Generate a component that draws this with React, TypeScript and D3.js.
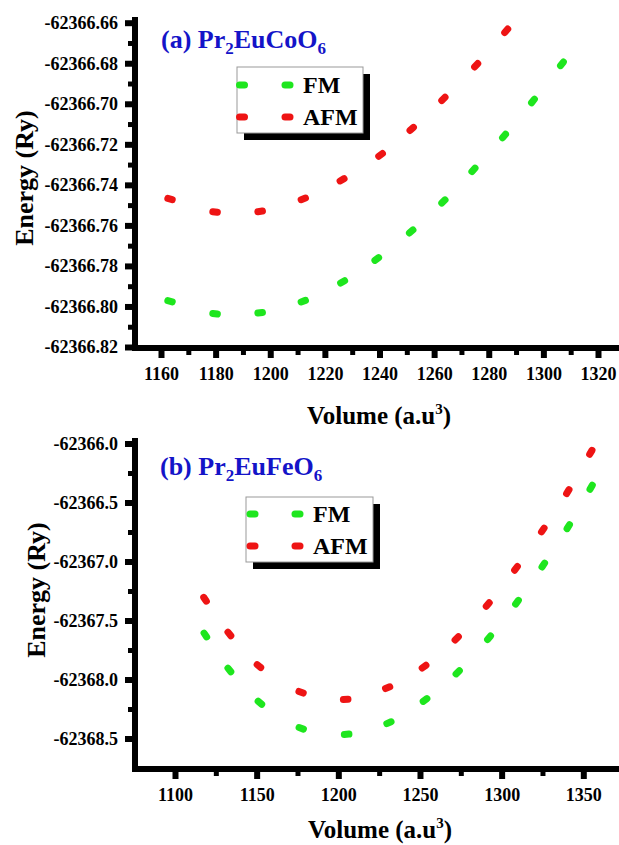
import React, { useEffect, useRef } from 'react';
import * as d3 from 'd3';

// panel (a) Pr2EuCoO6
const coFmVolume = [1163.3, 1179.8, 1196.3, 1212.1, 1226.5, 1239.0, 1251.6, 1263.4, 1274.4, 1285.6, 1296.2, 1306.8];
const coFmEnergy = [-62366.7974, -62366.8036, -62366.8031, -62366.7974, -62366.7879, -62366.7766, -62366.763, -62366.7482, -62366.7326, -62366.7159, -62366.6986, -62366.6803];
const coAfmVolume = [1163.3, 1179.8, 1196.3, 1212.1, 1226.3, 1240.4, 1251.8, 1263.4, 1275.4, 1286.4];
const coAfmEnergy = [-62366.747, -62366.7534, -62366.7531, -62366.7469, -62366.7375, -62366.7252, -62366.7124, -62366.6976, -62366.681, -62366.664];
const coXTicks = [1160, 1180, 1200, 1220, 1240, 1260, 1280, 1300, 1320];
const coYTicks = [-62366.82, -62366.8, -62366.78, -62366.76, -62366.74, -62366.72, -62366.7, -62366.68, -62366.66];

// panel (b) Pr2EuFeO6
const feFmVolume = [1118.6, 1133.3, 1152.0, 1177.3, 1205.1, 1231.0, 1253.1, 1273.1, 1292.3, 1309.4, 1325.5, 1340.8, 1354.8];
const feFmEnergy = [-62367.623, -62367.919, -62368.197, -62368.414, -62368.464, -62368.366, -62368.174, -62367.939, -62367.646, -62367.345, -62367.03, -62366.705, -62366.371];
const feAfmVolume = [1118.4, 1133.3, 1151.4, 1177.2, 1204.5, 1230.2, 1252.5, 1272.5, 1291.5, 1308.8, 1325.2, 1340.5, 1354.6];
const feAfmEnergy = [-62367.32, -62367.614, -62367.886, -62368.108, -62368.168, -62368.069, -62367.891, -62367.651, -62367.365, -62367.058, -62366.733, -62366.408, -62366.075];
const feXTicks = [1100, 1150, 1200, 1250, 1300, 1350];
const feYTicks = [-62368.5, -62368.0, -62367.5, -62367.0, -62366.5, -62366.0];

const seriesNames = ['FM', 'AFM'];
const FONT = '"Liberation Serif", "Times New Roman", serif';
const GREEN = '#1ee61e';
const RED = '#ee1414';
const BLUE = '#1414c8';

const App = () => {
  const ref = useRef<SVGSVGElement>(null);

  useEffect(() => {
    const svg = d3.select(ref.current);
    svg.selectAll('*').remove();

    const drawPanel = (p: any) => {
      const g = svg.append('g');
      const x = d3.scaleLinear().domain(p.xDomain).range(p.xRange);
      const y = d3.scaleLinear().domain(p.yDomain).range(p.yRange);
      const xMinor = p.xTicks.slice(0, -1).map((v: number, i: number) => (v + p.xTicks[i + 1]) / 2)
        .concat([p.xTicks[p.xTicks.length - 1] + (p.xTicks[1] - p.xTicks[0]) / 2]);
      const yMinor = p.yTicks.slice(0, -1).map((v: number, i: number) => (v + p.yTicks[i + 1]) / 2);

      // minor ticks
      g.append('g').attr('transform', `translate(0,${p.axisY})`)
        .call(d3.axisBottom(x).tickValues(xMinor).tickSize(7).tickSizeOuter(0).tickFormat(() => ''))
        .call(s => s.select('.domain').remove())
        .call(s => s.selectAll('line').attr('stroke', '#000').attr('stroke-width', 5));
      g.append('g').attr('transform', `translate(${p.axisX},0)`)
        .call(d3.axisLeft(y).tickValues(yMinor).tickSize(7).tickSizeOuter(0).tickFormat(() => ''))
        .call(s => s.select('.domain').remove())
        .call(s => s.selectAll('line').attr('stroke', '#000').attr('stroke-width', 5));

      // major ticks + labels
      g.append('g').attr('transform', `translate(0,${p.axisY})`)
        .call(d3.axisBottom(x).tickValues(p.xTicks).tickSize(10).tickSizeOuter(0).tickPadding(9).tickFormat(d => String(d)))
        .call(s => s.select('.domain').remove())
        .call(s => s.selectAll('line').attr('stroke', '#000').attr('stroke-width', 6))
        .call(s => s.selectAll('text').attr('fill', '#000').attr('font-family', FONT)
          .attr('font-weight', 'bold').attr('font-size', 18));
      g.append('g').attr('transform', `translate(${p.axisX},0)`)
        .call(d3.axisLeft(y).tickValues(p.yTicks).tickSize(10).tickSizeOuter(0).tickPadding(7)
          .tickFormat(d => (d as number).toFixed(p.yDigits)))
        .call(s => s.select('.domain').remove())
        .call(s => s.selectAll('line').attr('stroke', '#000').attr('stroke-width', 6))
        .call(s => s.selectAll('text').attr('fill', '#000').attr('font-family', FONT)
          .attr('font-weight', 'bold').attr('font-size', 18));

      // axis lines
      g.append('line').attr('x1', p.axisX).attr('x2', p.axisX)
        .attr('y1', p.axisTop).attr('y2', p.axisY + 3)
        .attr('stroke', '#000').attr('stroke-width', 6);
      g.append('line').attr('x1', p.axisX - 3).attr('x2', 640)
        .attr('y1', p.axisY).attr('y2', p.axisY)
        .attr('stroke', '#000').attr('stroke-width', 6);

      // markers: short dashes along local slope
      const drawDashes = (vols: number[], ens: number[], color: string) => {
        const pts = vols.map((v, i) => [x(v), y(ens[i])]);
        pts.forEach((pt, i) => {
          const a = pts[Math.max(0, i - 1)];
          const b = pts[Math.min(pts.length - 1, i + 1)];
          const dx = b[0] - a[0], dy = b[1] - a[1];
          const len = Math.hypot(dx, dy) || 1;
          const h = 2.3;
          g.append('line')
            .attr('x1', pt[0] - (dx / len) * h).attr('y1', pt[1] - (dy / len) * h)
            .attr('x2', pt[0] + (dx / len) * h).attr('y2', pt[1] + (dy / len) * h)
            .attr('stroke', color).attr('stroke-width', 7).attr('stroke-linecap', 'round');
        });
      };
      drawDashes(p.fmVolume, p.fmEnergy, GREEN);
      drawDashes(p.afmVolume, p.afmEnergy, RED);

      // title
      const t = g.append('text').attr('x', p.titleX).attr('y', p.titleY)
        .attr('font-family', FONT).attr('font-weight', 'bold').attr('font-size', 26).attr('fill', BLUE);
      t.append('tspan').text(p.title[0]);
      t.append('tspan').attr('dy', 6).attr('font-size', 17).text(p.title[1]);
      t.append('tspan').attr('dy', -6).attr('font-size', 26).text(p.title[2]);
      t.append('tspan').attr('dy', 6).attr('font-size', 17).text(p.title[3]);

      // legend
      const L = p.legend;
      g.append('rect').attr('x', L.x + 7).attr('y', L.y + 7).attr('width', L.w).attr('height', L.h).attr('fill', '#000');
      g.append('rect').attr('x', L.x).attr('y', L.y).attr('width', L.w).attr('height', L.h)
        .attr('fill', '#fff').attr('stroke', '#999').attr('stroke-width', 1);
      [GREEN, RED].forEach((c, i) => {
        const cy = L.y + L.row0 + i * L.rowGap;
        [L.dash0, L.dash1].forEach(cx => {
          g.append('line').attr('x1', cx - 2.5).attr('x2', cx + 2.5).attr('y1', cy).attr('y2', cy)
            .attr('stroke', c).attr('stroke-width', 7).attr('stroke-linecap', 'round');
        });
        g.append('text').attr('x', L.textX).attr('y', cy + 8)
          .attr('font-family', FONT).attr('font-weight', 'bold').attr('font-size', 24).attr('fill', '#000')
          .text(seriesNames[i]);
      });

      // axis titles
      const xt = g.append('text').attr('x', p.xTitleX).attr('y', p.xTitleY).attr('text-anchor', 'middle')
        .attr('font-family', FONT).attr('font-weight', 'bold').attr('font-size', 25).attr('fill', '#000');
      xt.append('tspan').text('Volume (a.u');
      xt.append('tspan').attr('dy', -10).attr('font-size', 15).text('3');
      xt.append('tspan').attr('dy', 10).text(')');
      g.append('text').attr('transform', `translate(${p.yTitleX},${p.yTitleY}) rotate(-90)`)
        .attr('text-anchor', 'middle').attr('dominant-baseline', 'central')
        .attr('font-family', FONT).attr('font-weight', 'bold').attr('font-size', 26).attr('fill', '#000')
        .text('Energy (Ry)');
    };

    drawPanel({
      xDomain: [1160, 1320], xRange: [161, 598],
      yDomain: [-62366.82, -62366.66], yRange: [347, 22.7],
      xTicks: coXTicks, yTicks: coYTicks, yDigits: 2,
      axisX: 135, axisY: 348, axisTop: 17,
      fmVolume: coFmVolume, fmEnergy: coFmEnergy, afmVolume: coAfmVolume, afmEnergy: coAfmEnergy,
      title: ['(a) Pr', '2', 'EuCoO', '6'], titleX: 161, titleY: 48,
      legend: { x: 237, y: 67, w: 126, h: 66, row0: 18, rowGap: 32, dash0: 242, dash1: 287.5, textX: 303 },
      xTitleX: 379, xTitleY: 424, yTitleX: 24, yTitleY: 178,
    });
    drawPanel({
      xDomain: [1100, 1350], xRange: [175, 583.3],
      yDomain: [-62368.5, -62366.0], yRange: [738.5, 443.5],
      xTicks: feXTicks, yTicks: feYTicks, yDigits: 1,
      axisX: 135, axisY: 769, axisTop: 438,
      fmVolume: feFmVolume, fmEnergy: feFmEnergy, afmVolume: feAfmVolume, afmEnergy: feAfmEnergy,
      title: ['(b) Pr', '2', 'EuFeO', '6'], titleX: 160, titleY: 475,
      legend: { x: 246, y: 497, w: 127, h: 65, row0: 17, rowGap: 32, dash0: 252.5, dash1: 297.5, textX: 313 },
      xTitleX: 380, xTitleY: 838, yTitleX: 36, yTitleY: 590,
    });
  }, []);

  return (
    <svg ref={ref} width={619} height={845}
      style={{ position: 'absolute', left: 0, top: 0, background: '#fff', overflow: 'hidden' }} />
  );
};

export default App;
